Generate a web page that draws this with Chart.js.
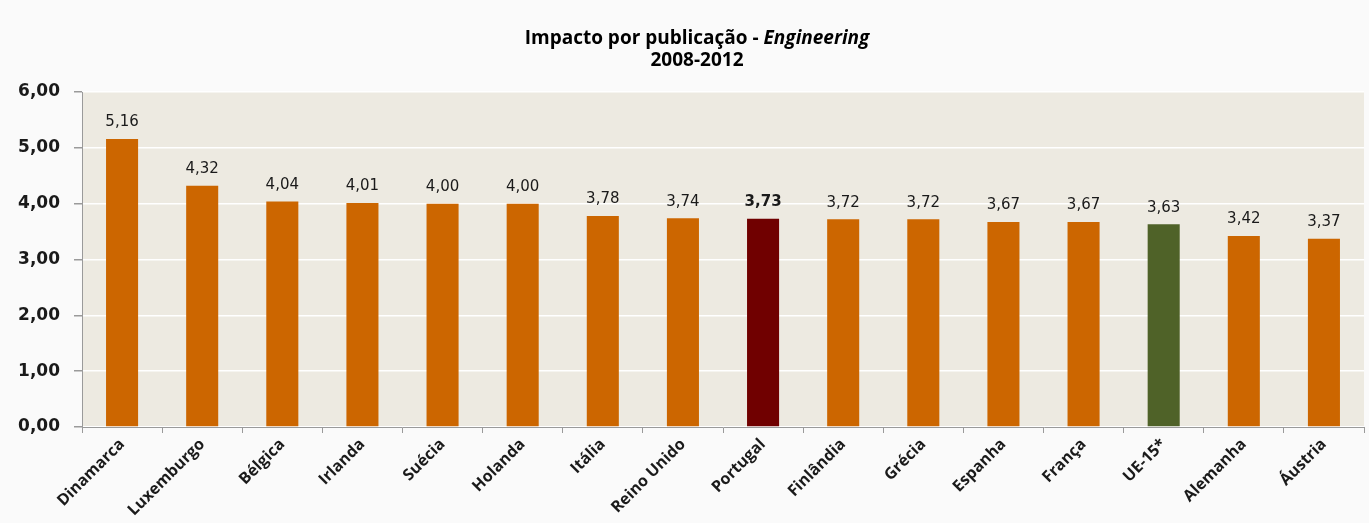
<!DOCTYPE html>
<html>
<head>
<meta charset="utf-8">
<script src="https://cdn.jsdelivr.net/npm/chart.js@4.4.1/dist/chart.umd.min.js"></script>
<style>
html,body{margin:0;padding:0;background:#ffffff;}
#wrap{width:1369px;height:523px;position:relative;}
</style>
</head>
<body>
<div id="wrap"><canvas id="c" width="1369" height="523"></canvas></div>
<script>
const categories = ["Dinamarca","Luxemburgo","Bélgica","Irlanda","Suécia","Holanda","Itália","Reino Unido","Portugal","Finlândia","Grécia","Espanha","França","UE-15*","Alemanha","Áustria"];
const values = [5.16,4.32,4.04,4.01,4.00,4.00,3.78,3.74,3.73,3.72,3.72,3.67,3.67,3.63,3.42,3.37];
const yTicks = [0,1,2,3,4,5,6];
const titleLine1 = "Impacto por publicação - ";
const titleItalic = "Engineering";
const titleLine2 = "2008-2012";

const ORANGE = "#CC6600", PORTUGAL = "#700000", UE = "#4F6228";
const barColors = categories.map(c => c === "Portugal" ? PORTUGAL : (c === "UE-15*" ? UE : ORANGE));
const fmt = v => v.toFixed(2).replace(".", ",");

const bgPlugin = {
  id: "bg",
  beforeDraw(chart) {
    const {ctx, chartArea: a} = chart;
    ctx.save();
    ctx.fillStyle = "#FAFAFA";
    ctx.fillRect(0, 0, chart.width, chart.height);
    ctx.fillStyle = "#EDEAE1";
    ctx.fillRect(a.left, a.top, a.right - a.left, a.bottom - a.top);
    ctx.restore();
  }
};

const titlePlugin = {
  id: "customTitle",
  afterDraw(chart) {
    const ctx = chart.ctx;
    const cx = 697;
    ctx.save();
    ctx.fillStyle = "#000";
    ctx.textBaseline = "alphabetic";
    const f1 = "bold 19px 'Open Sans'";
    const f2 = "italic bold 19px 'Open Sans'";
    ctx.font = f1; const w1 = ctx.measureText(titleLine1).width;
    ctx.font = f2; const w2 = ctx.measureText(titleItalic).width;
    let x = cx - (w1 + w2) / 2;
    ctx.font = f1; ctx.textAlign = "left"; ctx.fillText(titleLine1, x, 44);
    ctx.font = f2; ctx.fillText(titleItalic, x + w1, 44);
    ctx.font = f1; ctx.textAlign = "center"; ctx.fillText(titleLine2, cx, 66);
    ctx.restore();
  }
};

const labelPlugin = {
  id: "barLabels",
  afterDatasetsDraw(chart) {
    const ctx = chart.ctx;
    const meta = chart.getDatasetMeta(0);
    ctx.save();
    ctx.textAlign = "center";
    ctx.textBaseline = "bottom";
    ctx.fillStyle = "#1a1a1a";
    meta.data.forEach((bar, i) => {
      ctx.font = (categories[i] === "Portugal" ? "bold " : "") + "15px 'DejaVu Sans'";
      ctx.fillText(fmt(values[i]), bar.x, bar.y - 9);
    });
    ctx.restore();
  }
};

new Chart(document.getElementById("c"), {
  type: "bar",
  data: {
    labels: categories,
    datasets: [{
      data: values,
      backgroundColor: barColors,
      borderWidth: 0,
      barPercentage: 0.4,
      categoryPercentage: 1.0
    }]
  },
  options: {
    responsive: false,
    animation: false,
    layout: { padding: { top: 92, right: 5, left: 0, bottom: 0 } },
    plugins: { legend: { display: false }, tooltip: { enabled: false }, title: { display: false } },
    scales: {
      y: {
        min: 0, max: 6,
        afterBuildTicks(s) { s.ticks = yTicks.map(v => ({ value: v })); },
        afterFit(s) { s.width = 82; },
        ticks: {
          callback: v => fmt(v),
          font: { family: "'DejaVu Sans'", weight: "bold", size: 17 },
          color: "#1a1a1a",
          padding: 14
        },
        grid: { color: "#FFFFFF", lineWidth: 1.5, tickLength: 8, tickColor: "#9A9A9A", drawTicks: true },
        border: { color: "#9A9A9A", width: 1 }
      },
      x: {
        afterFit(s) { s.height = 96; },
        ticks: {
          maxRotation: 45, minRotation: 45,
          font: { family: "'Open Sans'", weight: "bold", size: 16 },
          color: "#1a1a1a",
          padding: 2
        },
        grid: { offset: true, drawOnChartArea: false, tickLength: 6, color: "#9A9A9A" },
        border: { color: "#9A9A9A", width: 1 }
      }
    }
  },
  plugins: [bgPlugin, titlePlugin, labelPlugin]
});
</script>
</body>
</html>
